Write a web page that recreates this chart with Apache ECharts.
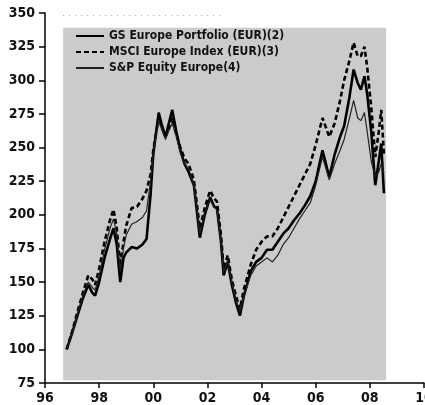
<!DOCTYPE html>
<html><head><meta charset="utf-8">
<script src="https://cdn.jsdelivr.net/npm/echarts@6/dist/echarts.min.js"></script>
<style>html,body{margin:0;padding:0;background:#fff}#c{width:425px;height:405px}</style>
</head><body><div id="c"></div>
<script>
const dates = [1996.8,1997.0,1997.2,1997.4,1997.6,1997.75,1997.85,1998.0,1998.2,1998.4,1998.53,1998.65,1998.78,1998.9,1999.0,1999.2,1999.4,1999.6,1999.75,1999.9,2000.0,2000.2,2000.3,2000.45,2000.6,2000.7,2000.85,2001.0,2001.15,2001.3,2001.5,2001.72,2001.9,2002.1,2002.25,2002.35,2002.5,2002.6,2002.75,2002.9,2003.05,2003.2,2003.35,2003.6,2003.8,2004.0,2004.2,2004.4,2004.6,2004.8,2005.0,2005.2,2005.4,2005.6,2005.8,2006.0,2006.25,2006.5,2006.7,2006.9,2007.05,2007.25,2007.4,2007.55,2007.67,2007.8,2007.9,2008.05,2008.2,2008.33,2008.42,2008.52];
const gsPortfolio = [100,112,125,138,148,142,140,150,168,182,190,178,150,168,172,176,175,178,182,215,245,276,268,258,270,278,262,248,238,232,222,183,200,213,206,205,180,155,165,148,135,125,140,158,165,168,174,174,180,186,190,196,201,207,214,225,248,228,245,258,266,288,308,298,293,303,290,262,222,240,253,216];
const msciEurope = [100,113,128,142,155,152,148,160,180,196,204,190,162,180,192,205,206,212,218,230,248,272,266,258,265,272,260,250,242,238,226,190,205,218,212,210,185,160,170,152,140,130,145,163,174,180,184,184,190,198,206,214,222,230,238,252,272,258,268,285,300,315,328,318,318,325,310,280,243,262,278,245];
const spEquity = [100,112,126,140,150,146,144,155,174,190,197,186,158,175,185,193,195,198,203,225,246,270,264,256,264,268,258,246,238,234,223,186,202,211,206,204,180,157,166,150,137,128,140,155,162,165,168,165,170,178,183,190,197,203,209,222,243,226,238,248,256,272,285,272,270,276,262,240,228,232,238,231];
const seriesNames = ['GS Europe Portfolio (EUR)(2)','MSCI Europe Index (EUR)(3)','S&P Equity Europe(4)'];
const yTicks = {min:75, max:350, step:25};
const xTicks = {min:1996, max:2010, step:2};
const shade = {x0:1996.67, x1:2008.6, y0:77, y1:339};
const topDots = {x0:1996.67, x1:2002.5, y:348.5};

const zip = a => dates.map((d,i)=>[d,a[i]]);
const font = '"Liberation Sans Narrow","DejaVu Sans Condensed",sans-serif';
const chart = echarts.init(document.getElementById('c'), null, {renderer:'canvas'});
chart.setOption({
  animation:false,
  color:['#000','#000','#222'],
  grid:{left:45, right:1, top:13, bottom:22, containLabel:false, outerBoundsMode:'none'},
  legend:{
    orient:'vertical', left:70, top:25, itemGap:4, itemWidth:28, itemHeight:12,
    itemStyle:{opacity:0},
    textStyle:{fontFamily:font, fontSize:12, fontWeight:'bold', color:'#111'},
    data:seriesNames
  },
  xAxis:{
    type:'value', min:xTicks.min, max:xTicks.max, interval:xTicks.step,
    axisLine:{lineStyle:{color:'#000', width:1.5}},
    axisTick:{length:5, lineStyle:{color:'#000', width:1.5}},
    splitLine:{show:false},
    axisLabel:{fontFamily:font, fontSize:14, fontWeight:'bold', color:'#111', margin:8, showMaxLabel:true,
      formatter:v=>String(Math.round(v)%100).padStart(2,'0')}
  },
  yAxis:{
    type:'value', min:yTicks.min, max:yTicks.max, interval:yTicks.step,
    axisLine:{show:true, lineStyle:{color:'#000', width:1.5}},
    axisTick:{show:true, length:6, lineStyle:{color:'#000', width:1.5}},
    splitLine:{show:false},
    axisLabel:{fontFamily:font, fontSize:14, fontWeight:'bold', color:'#111', margin:10}
  },
  series:[
    {name:seriesNames[0], type:'line', symbol:'none', data:zip(gsPortfolio), z:4,
     lineStyle:{color:'#000', width:2.6},
     markArea:{silent:true, itemStyle:{color:'#cbcbcb'}, data:[[{coord:[shade.x0,shade.y0]},{coord:[shade.x1,shade.y1]}]]},
     markLine:{silent:true, symbol:'none', label:{show:false},
       lineStyle:{color:'#aaa', width:1, type:[1,5]},
       data:[[{coord:[topDots.x0,topDots.y]},{coord:[topDots.x1,topDots.y]}]]}},
    {name:seriesNames[1], type:'line', symbol:'none', data:zip(msciEurope), z:3,
     lineStyle:{color:'#000', width:2.6, type:[5,3]}},
    {name:seriesNames[2], type:'line', symbol:'none', data:zip(spEquity), z:5,
     lineStyle:{color:'#222', width:1.2}}
  ]
});
</script></body></html>
